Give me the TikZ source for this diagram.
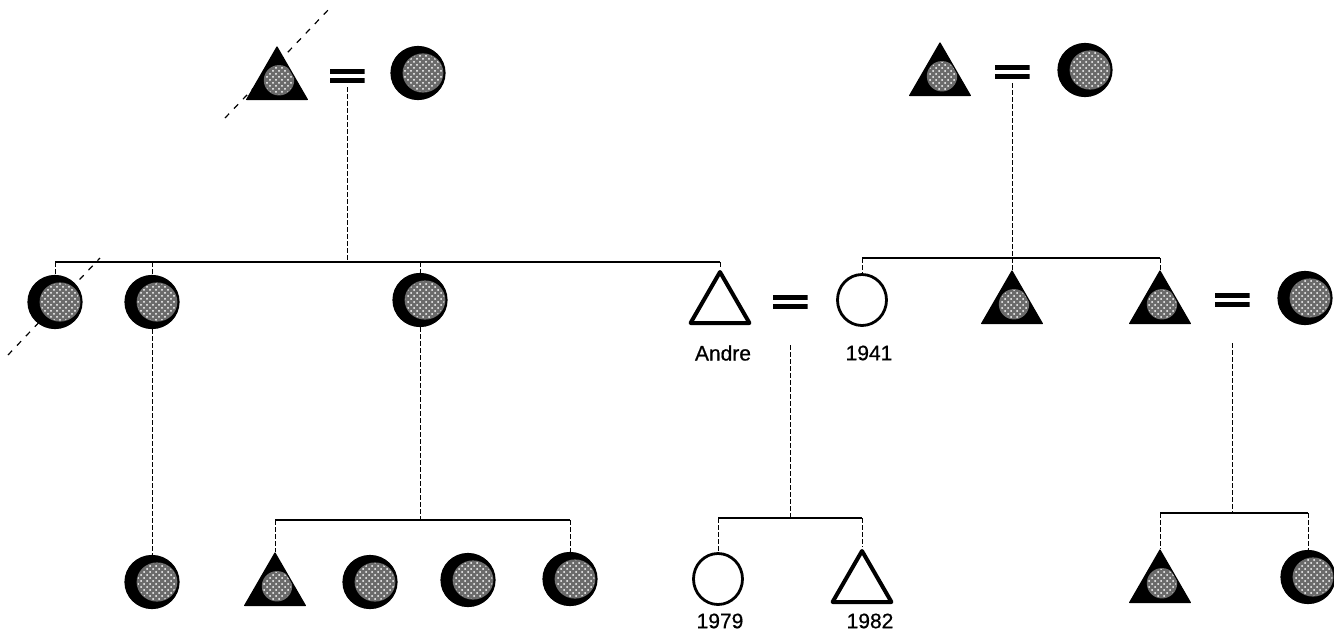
\documentclass[tikz,border=0pt]{standalone}
\usepackage{fontspec}
\setmainfont{Liberation Sans}
\newfontfamily\labfont{Liberation Sans}[FakeBold=0.6]
\usetikzlibrary{shapes.geometric,patterns}
\tikzset{
  shadefem/.style={ellipse, inner sep=0pt, minimum width=27pt, minimum height=26.5pt, draw=black, line width=0.6pt, fill=black,
    path picture={
      \fill[black!58] ([xshift=2.5pt]path picture bounding box.center) ellipse (10.2pt and 9.8pt);
      \fill[pattern=crosshatch dots, pattern color=white] ([xshift=2.5pt]path picture bounding box.center) ellipse (9.7pt and 9.3pt);}},
  shademale/.style={regular polygon, regular polygon sides=3, inner sep=0pt, minimum size=35pt,
    draw=black, line width=0.6pt, line join=round, fill=black,
    path picture={
      \fill[black!58] ([xshift=1pt,yshift=-3.5pt]path picture bounding box.center) circle (7.6pt);
      \fill[pattern=crosshatch dots, pattern color=white] ([xshift=1pt,yshift=-3.5pt]path picture bounding box.center) circle (7.1pt);}},
  openfem/.style={ellipse, inner sep=0pt, minimum width=24.5pt, minimum height=25.5pt, draw=black, line width=1.4pt, fill=white},
  openmale/.style={regular polygon, regular polygon sides=3, inner sep=0pt, minimum size=34pt,
    draw=black, line width=2pt, line join=round, fill=white},
  marr/.style={rectangle, inner sep=0pt, minimum width=17.5pt, minimum height=7pt,
    path picture={
      \fill[black] (path picture bounding box.north west) rectangle ([yshift=-2.3pt]path picture bounding box.north east);
      \fill[black] (path picture bounding box.south west) rectangle ([yshift=2.3pt]path picture bounding box.south east);}},
  lab/.style={font=\labfont\fontsize{10.5}{12}\selectfont, inner sep=0pt},
  sibbar/.style={line width=0.8pt},
  drop/.style={line width=0.5pt, dash pattern=on 2.5pt off 1pt},
  slash/.style={line width=0.6pt, dash pattern=on 3pt off 3.5pt}
}
\begin{document}
\begin{tikzpicture}[x=0.5pt,y=-0.5pt]
\useasboundingbox (0,0) rectangle (1334,632);
% slashes (deceased)
\coordinate (s1a) at (225,118); \coordinate (s1b) at (330,8);
\coordinate (s2a) at (8,355);   \coordinate (s2b) at (100,258);
\draw[slash] (s1a) -- (s1b);
\draw[slash] (s2a) -- (s2b);
% generation 1
\node[shademale] (gm1) at (277,82) {};
\node[marr] (m1) at (347,76) {};
\node[shadefem] (gf1) at (418,73) {};
\node[shademale] (gm2) at (940,78) {};
\node[marr] (m2) at (1012,72) {};
\node[shadefem] (gf2) at (1085,70) {};
% generation 2
\node[shadefem] (k1) at (55,302) {};
\node[shadefem] (k2) at (152,302) {};
\node[shadefem] (k3) at (420,300) {};
\node[openmale] (andre) at (720,306) {};
\node[marr] (m3) at (790,302) {};
\node[openfem] (w1941) at (862,300) {};
\node[shademale] (k6) at (1012,306) {};
\node[shademale] (k7) at (1160,306) {};
\node[marr] (m4) at (1232,300) {};
\node[shadefem] (kw) at (1305,298) {};
\node[lab] (lAndre) at (723,353) {Andre};
\node[lab] (l1941) at (869,353) {1941};
% generation 3
\node[shadefem] (r1) at (152,582) {};
\node[shademale] (r2) at (275,588) {};
\node[shadefem] (r3) at (370,582) {};
\node[shadefem] (r4) at (468,580) {};
\node[shadefem] (r5) at (570,579) {};
\node[openfem] (c1979) at (718,579) {};
\node[openmale] (c1982) at (862,585) {};
\node[shademale] (r8) at (1160,585) {};
\node[shadefem] (r9) at (1308,577) {};
\node[lab] (l1979) at (720,621) {1979};
\node[lab] (l1982) at (870,621) {1982};
% sibling bar anchors
\coordinate (b1) at (347,262);
\coordinate (b2) at (1012,258);
\coordinate (b3) at (420,520);
\coordinate (b4) at (790,518);
\coordinate (b5) at (1232,513);
% family 1
\draw[drop] (m1.south) ++(0,4) -- (b1);
\draw[sibbar] (k1.north |- b1) -- (andre.north |- b1);
\foreach \n in {k1,k2,k3,andre} \draw[drop] (\n.north |- b1) -- (\n.north);
% family 2
\draw[drop] (m2.south) ++(0,4) -- (k6.north);
\draw[sibbar] (w1941.north |- b2) -- (k7.north |- b2);
\foreach \n in {w1941,k7} \draw[drop] (\n.north |- b2) -- (\n.north);
% k2 child
\draw[drop] (k2.south) -- (r1.north);
% k3 children
\draw[drop] (k3.south) -- (b3);
\draw[sibbar] (r2.north |- b3) -- (r5.north |- b3);
\foreach \n in {r2,r5} \draw[drop] (\n.north |- b3) -- (\n.north);
% Andre children
\draw[drop] (m3.south) ++(0,36) -- (b4);
\draw[sibbar] (c1979.north |- b4) -- (c1982.north |- b4);
\foreach \n in {c1979,c1982} \draw[drop] (\n.north |- b4) -- (\n.north);
% k7 children
\draw[drop] (m4.south) ++(0,36) -- (b5);
\draw[sibbar] (r8.north |- b5) -- (r9.north |- b5);
\foreach \n in {r8,r9} \draw[drop] (\n.north |- b5) -- (\n.north);
\end{tikzpicture}
\end{document}
